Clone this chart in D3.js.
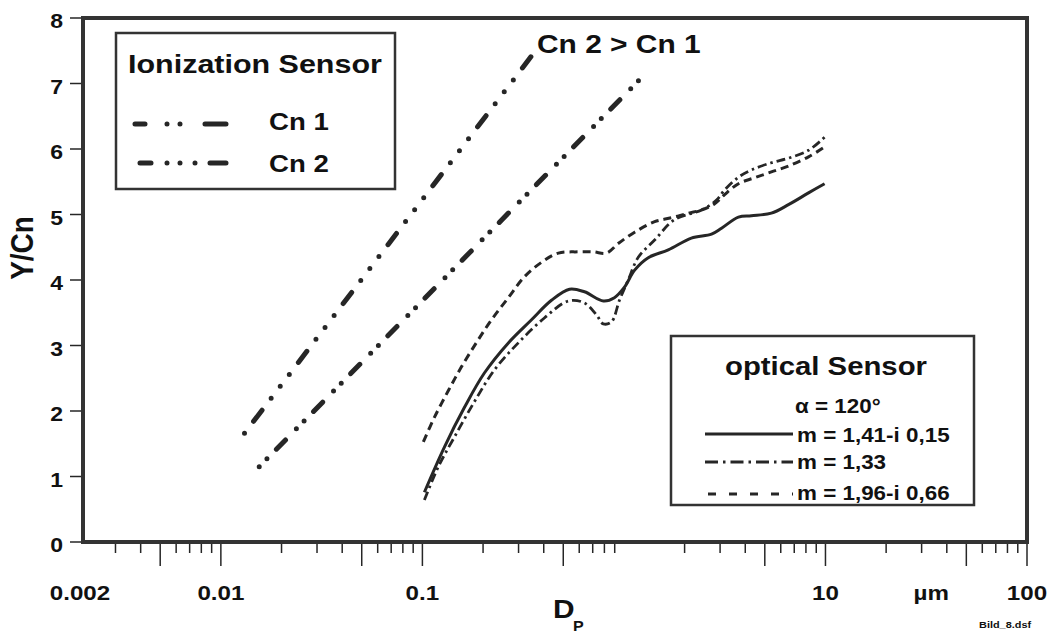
<!DOCTYPE html>
<html><head><meta charset="utf-8">
<script src="https://cdn.jsdelivr.net/npm/d3@7"></script>
<style>
body{margin:0;background:#fff}
text{font-family:"Liberation Sans",Arial,sans-serif;font-weight:bold;fill:#111}
</style>
</head><body>
<svg id="c" width="1053" height="640"></svg>
<script>
// ---------- data ----------
const yTicks = [0,1,2,3,4,5,6,7,8];
const xMinorTicks = [0.003,0.004,0.006,0.007,0.008,0.009,0.02,0.03,0.04,0.06,0.07,0.08,0.09,
                     0.2,0.3,0.4,0.6,0.7,0.8,0.9,2,3,4,6,7,8,9,20,30,40,60,70,80,90];
const xMajorTicks = [0.005,0.01,0.05,0.1,0.5,5,10,50,100];
const xLabelValues = [0.002,0.01,0.1,10,100];
const xLabelTexts = ["0.002","0.01","0.1","10","100"];
const unitValue = 33.5, unitText = "µm";

const cn1D = [0.0155,1.26], cn1Y = [1.15,7.13];
const cn2D = [0.0131,0.36], cn2Y = [1.66,7.48];

const solidD = [0.1023,0.1286,0.162,0.203,0.267,0.347,0.437,0.537,0.637,0.791,0.897,1.006,1.13,1.32,1.66,2.16,2.72,3.05,3.70,4.29,5.39,6.55,8.24,9.9];
const solidY = [0.76,1.45,2.06,2.58,3.04,3.39,3.69,3.86,3.82,3.68,3.73,3.89,4.15,4.34,4.46,4.64,4.70,4.79,4.96,4.98,5.02,5.15,5.33,5.47];

const dashdotD = [0.1023,0.12,0.144,0.181,0.228,0.299,0.403,0.53,0.637,0.73,0.79,0.867,0.95,1.05,1.18,1.42,1.78,2.43,2.88,3.15,3.70,4.29,5.39,6.55,8.24,9.9];
const dashdotY = [0.64,1.15,1.60,2.14,2.63,3.04,3.42,3.68,3.65,3.47,3.33,3.36,3.69,4.0,4.35,4.61,4.92,5.07,5.22,5.37,5.57,5.68,5.79,5.86,5.98,6.18];

const dashedD = [0.1011,0.115,0.135,0.156,0.185,0.22,0.267,0.321,0.39,0.473,0.594,0.706,0.819,0.94,1.13,1.42,1.72,2.09,2.43,2.81,3.15,3.70,4.44,5.39,6.55,8.24,9.9];
const dashedY = [1.53,1.91,2.32,2.67,3.04,3.39,3.73,4.05,4.27,4.41,4.43,4.43,4.41,4.56,4.73,4.89,4.95,5.02,5.07,5.16,5.30,5.47,5.56,5.65,5.74,5.88,6.03];

const ionTitle = "Ionization Sensor";
const ionLabels = ["Cn 1","Cn 2"];
const optTitle = "optical Sensor";
const optAngle = "α = 120°";
const optLabels = ["m = 1,41-i 0,15","m = 1,33","m = 1,96-i 0,66"];

// ---------- layout ----------
const svg = d3.select("#c");
const L = 83, R = 1027, T = 18, B = 542;
const x = d3.scaleLog().domain([0.002,100]).range([80,1027]);
const y = d3.scaleLinear().domain([0,8]).range([B,T]);
const SX = 1.15;
const ink = "#262626";

function txt(px,py,s,size,anchor="start"){
  return svg.append("text")
    .attr("transform",`translate(${px},${py}) scale(${SX},1)`)
    .attr("font-size",size).attr("text-anchor",anchor).text(s);
}

// y ticks
svg.append("g").selectAll("line").data(yTicks).join("line")
  .attr("x1",70).attr("x2",L).attr("y1",d=>y(d)).attr("y2",d=>y(d))
  .attr("stroke",ink).attr("stroke-width",1.5);
yTicks.forEach(v=>txt(63,y(v)+10,String(v),20,"end"));

// x ticks
svg.append("g").selectAll("line").data(xMinorTicks).join("line")
  .attr("x1",d=>x(d)).attr("x2",d=>x(d)).attr("y1",B).attr("y2",553)
  .attr("stroke",ink).attr("stroke-width",1.5);
svg.append("g").selectAll("line").data(xMajorTicks).join("line")
  .attr("x1",d=>x(d)).attr("x2",d=>x(d)).attr("y1",B).attr("y2",566)
  .attr("stroke",ink).attr("stroke-width",1.5);
xLabelValues.forEach((v,i)=>txt(x(v),600,xLabelTexts[i],21,"middle"));
txt(x(unitValue),600,unitText,21,"middle");

// axis titles
txt(553,618,"D",26,"start");
txt(573,631,"P",14,"start");
svg.append("text").attr("transform",`translate(33,248) scale(${SX},1) rotate(-90)`)
  .attr("font-size",28).attr("text-anchor","middle").text("Y/Cn");
txt(979,628,"Bild_8.dsf",9.5,"start");

// frame
svg.append("rect").attr("x",L).attr("y",T).attr("width",R-L).attr("height",B-T)
  .attr("fill","none").attr("stroke","#333").attr("stroke-width",4);

// curves
const line = d3.line().x(d=>x(d[0])).y(d=>y(d[1])).curve(d3.curveCatmullRom.alpha(0.5));
const zip = (a,b)=>a.map((v,i)=>[v,b[i]]);

svg.append("path").datum(zip(cn2D,cn2Y)).attr("d",line).attr("fill","none")
  .attr("stroke",ink).attr("stroke-width",5).attr("stroke-linecap","round")
  .attr("stroke-dasharray","0,15,14,15,0,15,0,15");
svg.append("path").datum(zip(cn1D,cn1Y)).attr("d",line).attr("fill","none")
  .attr("stroke",ink).attr("stroke-width",5).attr("stroke-linecap","round")
  .attr("stroke-dasharray","0,11,0,13.5,13,15.5");

svg.append("path").datum(zip(dashedD,dashedY)).attr("d",line).attr("fill","none")
  .attr("stroke",ink).attr("stroke-width",3).attr("stroke-dasharray","8,5");
svg.append("path").datum(zip(dashdotD,dashdotY)).attr("d",line).attr("fill","none")
  .attr("stroke",ink).attr("stroke-width",2.8).attr("stroke-dasharray","9,4,2.5,4");
svg.append("path").datum(zip(solidD,solidY)).attr("d",line).attr("fill","none")
  .attr("stroke",ink).attr("stroke-width",3);

txt(537,53,"Cn 2 > Cn 1",26,"start");

// ionization legend
svg.append("rect").attr("x",116).attr("y",33).attr("width",279).attr("height",156)
  .attr("fill","#fff").attr("stroke","#333").attr("stroke-width",2.5);
txt(128,73,ionTitle,26.5,"start");
svg.append("line").attr("x1",135).attr("x2",226).attr("y1",124).attr("y2",124)
  .attr("stroke",ink).attr("stroke-width",5).attr("stroke-linecap","round")
  .attr("stroke-dasharray","10,22,0,13,0,25,21,100");
svg.append("line").attr("x1",140).attr("x2",226).attr("y1",163).attr("y2",163)
  .attr("stroke",ink).attr("stroke-width",5).attr("stroke-linecap","round")
  .attr("stroke-dasharray","11,16,0,13,0,15,0,15,16,100");
ionLabels.forEach((s,i)=>txt(269,[130,172][i],s,24,"start"));

// optical legend
svg.append("rect").attr("x",671).attr("y",336).attr("width",303).attr("height",169)
  .attr("fill","#fff").attr("stroke","#333").attr("stroke-width",2.5);
txt(725,375,optTitle,25.5,"start");
txt(795,413,optAngle,19.5,"start");
const optY = [434,462,494];
const optDash = [null,"13,5,2.5,5","8,13"];
optY.forEach((yy,i)=>{
  const l = svg.append("line").attr("x1",i==2?708:705).attr("x2",793).attr("y1",yy).attr("y2",yy)
    .attr("stroke",ink).attr("stroke-width",3);
  if(optDash[i]) l.attr("stroke-dasharray",optDash[i]);
});
optLabels.forEach((s,i)=>txt(797,[442,469,500][i],s,19.5,"start"));
</script>
</body></html>
